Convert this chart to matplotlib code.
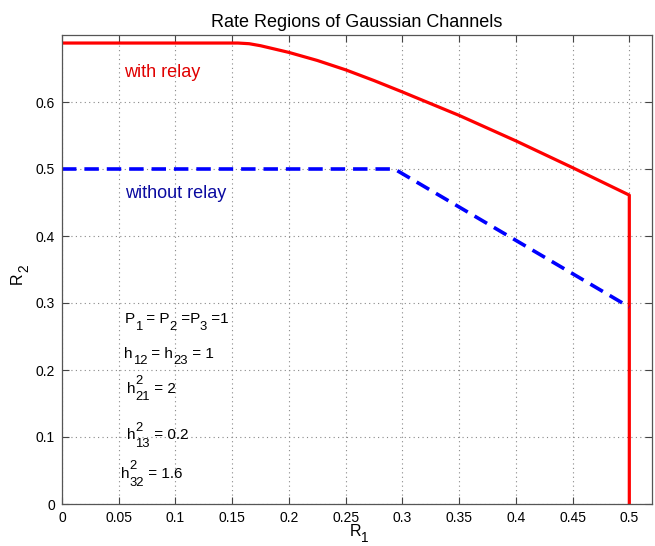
import matplotlib
matplotlib.use("Agg")
import matplotlib.pyplot as plt

plt.rcParams['font.family'] = ['Liberation Sans', 'DejaVu Sans']

# Rate region boundary with relay
r1_relay = [0.0, 0.155, 0.165, 0.175, 0.185, 0.2, 0.225, 0.25, 0.275, 0.3,
            0.35, 0.4, 0.45, 0.5, 0.5]
r2_relay = [0.688, 0.688, 0.687, 0.684, 0.680, 0.674, 0.662, 0.648, 0.632, 0.615,
            0.580, 0.542, 0.502, 0.461, 0.0]

# Rate region boundary without relay
r1_norelay = [0.0, 0.293, 0.5]
r2_norelay = [0.5, 0.5, 0.294]

xticks = [0, 0.05, 0.1, 0.15, 0.2, 0.25, 0.3, 0.35, 0.4, 0.45, 0.5]
xtick_labels = ['0', '0.05', '0.1', '0.15', '0.2', '0.25', '0.3', '0.35', '0.4', '0.45', '0.5']
yticks = [0, 0.1, 0.2, 0.3, 0.4, 0.5, 0.6]
ytick_labels = ['0', '0.1', '0.2', '0.3', '0.4', '0.5', '0.6']

# Channel parameters: (x, y, [(text, kind), ...]); kind is n / sub / sup / subsup
params = [
    (0.055, 0.270, [('P', 'n'), ('1', 'sub'), (' = P', 'n'), ('2', 'sub'),
                    (' =P', 'n'), ('3', 'sub'), (' =1', 'n')]),
    (0.055, 0.218, [('h', 'n'), ('12', 'sub'), (' = h', 'n'), ('23', 'sub'), (' = 1', 'n')]),
    (0.057, 0.166, [('h', 'n'), (('2', '21'), 'subsup'), (' = 2', 'n')]),
    (0.057, 0.097, [('h', 'n'), (('2', '13'), 'subsup'), (' = 0.2', 'n')]),
    (0.052, 0.039, [('h', 'n'), (('2', '32'), 'subsup'), (' = 1.6', 'n')]),
]

W, H = 655, 546
DPI = 100
fig = plt.figure(figsize=(W / DPI, H / DPI), dpi=DPI)
ax = fig.add_axes([62 / W, 42 / H, (652 - 62) / W, (504 - 35) / H])
renderer = fig.canvas.get_renderer()


def text_width(s, fs):
    """Advance width of a string in points (spaces included)."""
    def w(t):
        tt = fig.text(0, 0, t, fontsize=fs)
        ww = tt.get_window_extent(renderer).width
        tt.remove()
        return ww
    return (w('|' + s + '|') - w('||')) * 72 / DPI


def rich_text(x, y, parts, fs, xycoords='data', rotation=0, color='k', sub_drop=0.42):
    """Draw text with MATLAB-like sub/superscripts from separate pieces."""
    sfs = fs * 0.85
    adv = 0.0

    def put(s, size, along, shift):
        if rotation == 90:
            off = (-shift, along)
        else:
            off = (along, shift)
        ax.annotate(s, (x, y), xycoords=xycoords, xytext=off,
                    textcoords='offset points', fontsize=size, color=color,
                    va='baseline', ha='left', rotation=rotation,
                    rotation_mode='anchor', annotation_clip=False)

    for s, kind in parts:
        if kind == 'n':
            put(s, fs, adv, 0)
            adv += text_width(s, fs)
        elif kind == 'sub':
            put(s, sfs, adv, -sub_drop * fs)
            adv += text_width(s, sfs)
        elif kind == 'sup':
            put(s, sfs, adv, 0.5 * fs)
            adv += text_width(s, sfs)
        else:
            sup, sub = s
            put(sup, sfs, adv, 0.55 * fs)
            put(sub, sfs, adv, -0.5 * fs)
            adv += max(text_width(sup, sfs), text_width(sub, sfs))


ax.plot(r1_relay, r2_relay, color='#ff0000', lw=2.3, solid_joinstyle='round')
ax.plot(r1_norelay, r2_norelay, color='#0000ff', lw=2.6, dashes=(4, 2.2))

ax.set_xlim(0, 0.52)
ax.set_ylim(0, 0.7)
ax.set_xticks(xticks)
ax.set_xticklabels(xtick_labels)
ax.set_yticks(yticks)
ax.set_yticklabels(ytick_labels)

ax.grid(True, linestyle=(0, (1, 3)), color='#888888', lw=0.8)
ax.tick_params(direction='in', top=True, right=True, length=5, width=0.8,
               labelsize=10, color='#444444', pad=5)
for s in ax.spines.values():
    s.set_color('#555555')
    s.set_linewidth(0.9)

ax.set_title('Rate Regions of Gaussian Channels', fontsize=13, pad=6)

# Axis labels with subscripts
rich_text(350 / W, 10 / H, [('R', 'n'), ('1', 'sub')], 11.5, xycoords='figure fraction',
          sub_drop=0.36)
rich_text(22 / W, 262 / H, [('R', 'n'), ('2', 'sub')], 11.5, xycoords='figure fraction',
          rotation=90)

ax.text(0.0548, 0.637, 'with relay', color='#e00000', fontsize=13, va='baseline')
ax.text(0.0557, 0.457, 'without relay', color='#0a0aa0', fontsize=13, va='baseline')

for x, y, parts in params:
    rich_text(x, y, parts, 11)

fig.savefig('out.png', dpi=DPI)
